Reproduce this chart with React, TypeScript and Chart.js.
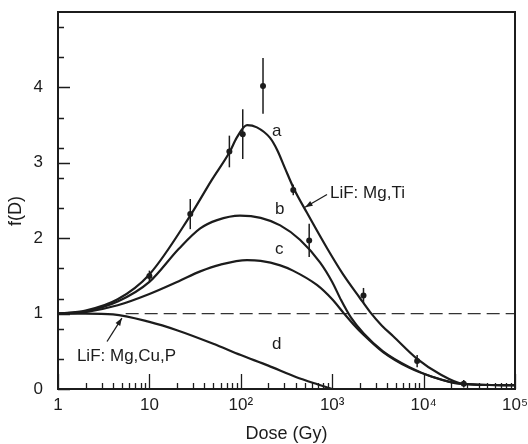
import React, { useEffect, useRef } from "react";
import { Chart, registerables } from "chart.js";

Chart.register(...registerables);

// ---- data ----
const doseA = [1, 2, 4.5, 10, 28, 48, 76, 90, 117, 150, 209, 250, 304, 380, 528, 876, 1300, 2000, 2600, 3500, 4650, 8500, 15000, 27000, 100000];
const fA = [1.0, 1.04, 1.19, 1.52, 2.3, 2.77, 3.15, 3.33, 3.5, 3.47, 3.33, 3.17, 2.93, 2.66, 2.34, 1.87, 1.53, 1.21, 1.02, 0.84, 0.7, 0.4, 0.2, 0.07, 0.05];

const doseB = [1, 2, 4.5, 10, 21, 36, 55, 98, 165, 270, 444, 735, 1000, 1250, 1600, 2200, 3600, 7000, 12600, 25000, 100000];
const fB = [1.0, 1.03, 1.16, 1.42, 1.86, 2.13, 2.24, 2.3, 2.27, 2.17, 1.98, 1.68, 1.42, 1.18, 0.95, 0.74, 0.5, 0.29, 0.16, 0.07, 0.05];

const doseC = [1, 2, 4.5, 10, 21, 36, 60, 117, 165, 270, 372, 680, 1000, 1350, 1700, 2200, 3600, 7000, 12600, 25000, 100000];
const fC = [1.0, 1.02, 1.11, 1.26, 1.43, 1.56, 1.65, 1.71, 1.7, 1.64, 1.57, 1.38, 1.19, 1.0, 0.86, 0.72, 0.49, 0.28, 0.16, 0.07, 0.05];

const doseD = [1, 2, 4, 10, 20, 50, 100, 200, 400, 700, 1000];
const fD = [1.0, 1.0, 0.99, 0.89, 0.78, 0.6, 0.45, 0.31, 0.16, 0.06, 0.0];

const refDose = [5.5, 100000];
const refF = [1, 1];

const ptDose = [10, 28, 75, 105, 175, 375, 560, 2200, 8500, 27500];
const ptF = [1.5, 2.32, 3.15, 3.38, 4.02, 2.64, 1.97, 1.24, 0.37, 0.07];
const ptErr = [0.07, 0.2, 0.21, 0.33, 0.37, 0.07, 0.22, 0.1, 0.08, 0.05];

const decadeValues = [1, 10, 100, 1000, 10000, 100000];
const decadeLabels = ["1", "10", "10²", "10³", "10⁴", "10⁵"];
const yTickValues = [0, 0.4, 0.8, 1, 1.2, 1.6, 2, 2.4, 2.8, 3, 3.2, 3.6, 4, 4.4, 4.8];

const curveLabels = [
  { text: "a", x: 219, y: 3.42 },
  { text: "b", x: 237, y: 2.38 },
  { text: "c", x: 237, y: 1.85 },
  { text: "d", x: 219, y: 0.59 },
];
const notes = [
  { text: "LiF: Mg,Ti", x: 946, y: 2.6, tail: [877, 2.58], head: [505, 2.41] },
  { text: "LiF: Mg,Cu,P", x: 1.61, y: 0.43, tail: [3.44, 0.63], head: [5.0, 0.94] },
];

const FONT = "'Liberation Sans', Arial, Helvetica, sans-serif";
const INK = "#1c1c1c";

const xTickValues: number[] = [];
for (let e = 0; e < 5; e++) {
  for (let m = 1; m < 10; m++) xTickValues.push(m * Math.pow(10, e));
}
xTickValues.push(100000);

const toPts = (xs: number[], ys: number[]) => xs.map((x, i) => ({ x, y: ys[i] }));

const overlay = {
  id: "overlay",
  afterDatasetsDraw(chart: any) {
    const { ctx, chartArea: ca, scales } = chart;
    const xs = scales.x;
    const ys = scales.y;
    ctx.save();
    // frame
    ctx.strokeStyle = INK;
    ctx.lineWidth = 2;
    ctx.strokeRect(ca.left, ca.top, ca.right - ca.left, ca.bottom - ca.top);
    // inward ticks
    ctx.lineWidth = 1.3;
    ctx.beginPath();
    xTickValues.forEach((v) => {
      const px = Math.round(xs.getPixelForValue(v)) + 0.5;
      const major = decadeValues.includes(v);
      ctx.moveTo(px, ca.bottom);
      ctx.lineTo(px, ca.bottom - (major ? 15 : 6));
    });
    yTickValues.forEach((v) => {
      const py = Math.round(ys.getPixelForValue(v)) + 0.5;
      const major = Number.isInteger(v);
      ctx.moveTo(ca.left, py);
      ctx.lineTo(ca.left + (major ? 12 : 6), py);
    });
    ctx.stroke();
    // error bars and points
    ctx.lineWidth = 1.5;
    ctx.fillStyle = INK;
    ptDose.forEach((d, i) => {
      const px = xs.getPixelForValue(d);
      const py = ys.getPixelForValue(ptF[i]);
      const pt = ys.getPixelForValue(ptF[i] + ptErr[i]);
      const pb = ys.getPixelForValue(ptF[i] - ptErr[i]);
      ctx.beginPath();
      ctx.moveTo(px, pt);
      ctx.lineTo(px, pb);
      ctx.stroke();
      ctx.beginPath();
      ctx.arc(px, py, 3, 0, Math.PI * 2);
      ctx.fill();
    });
    // curve letters
    ctx.fillStyle = INK;
    ctx.font = `17px ${FONT}`;
    ctx.textAlign = "left";
    ctx.textBaseline = "middle";
    curveLabels.forEach((l) => {
      ctx.fillText(l.text, xs.getPixelForValue(l.x), ys.getPixelForValue(l.y));
    });
    // notes with arrows
    notes.forEach((n) => {
      ctx.fillText(n.text, xs.getPixelForValue(n.x), ys.getPixelForValue(n.y));
      const tx = xs.getPixelForValue(n.tail[0]);
      const ty = ys.getPixelForValue(n.tail[1]);
      const hx = xs.getPixelForValue(n.head[0]);
      const hy = ys.getPixelForValue(n.head[1]);
      ctx.lineWidth = 1.3;
      ctx.beginPath();
      ctx.moveTo(tx, ty);
      ctx.lineTo(hx, hy);
      ctx.stroke();
      const ang = Math.atan2(hy - ty, hx - tx);
      const L = 8, W = 0.35;
      ctx.beginPath();
      ctx.moveTo(hx, hy);
      ctx.lineTo(hx - L * Math.cos(ang - W), hy - L * Math.sin(ang - W));
      ctx.lineTo(hx - L * Math.cos(ang + W), hy - L * Math.sin(ang + W));
      ctx.closePath();
      ctx.fill();
    });
    // y title
    ctx.save();
    ctx.translate(16, 211);
    ctx.rotate(-Math.PI / 2);
    ctx.textAlign = "center";
    ctx.textBaseline = "middle";
    ctx.font = `18px ${FONT}`;
    ctx.fillText("f(D)", 0, 0);
    ctx.restore();
    ctx.restore();
  },
};

export default function App() {
  const ref = useRef<HTMLCanvasElement | null>(null);
  useEffect(() => {
    if (!ref.current) return;
    const lineDs = (data: any, extra: any = {}) => ({
      data,
      borderColor: INK,
      borderWidth: 2.2,
      pointRadius: 0,
      fill: false,
      cubicInterpolationMode: "monotone",
      ...extra,
    });
    const chart = new Chart(ref.current, {
      type: "line",
      data: {
        datasets: [
          lineDs(toPts(doseA, fA)),
          lineDs(toPts(doseB, fB)),
          lineDs(toPts(doseC, fC)),
          lineDs(toPts(doseD, fD)),
          lineDs(toPts(refDose, refF), { borderWidth: 1.4, borderDash: [13, 6], borderColor: "#333" }),
        ],
      },
      plugins: [overlay],
      options: {
        animation: false,
        responsive: true,
        maintainAspectRatio: false,
        layout: { padding: { left: 0, right: 13, top: 12, bottom: 0 } },
        plugins: { legend: { display: false }, tooltip: { enabled: false } },
        scales: {
          x: {
            type: "logarithmic",
            min: 1,
            max: 100000,
            afterBuildTicks: (s: any) => {
              s.ticks = xTickValues.map((v) => ({ value: v }));
            },
            afterFit: (s: any) => {
              s.height = 55;
              s.paddingLeft = 0;
              s.paddingRight = 0;
            },
            grid: { display: false, drawTicks: false },
            border: { display: false },
            ticks: {
              autoSkip: false,
              maxRotation: 0,
              padding: 6,
              color: INK,
              font: { family: FONT, size: 17 },
              callback: (v: any) => {
                const i = decadeValues.indexOf(Number(v));
                return i >= 0 ? decadeLabels[i] : "";
              },
            },
            title: {
              display: true,
              text: "Dose (Gy)",
              color: INK,
              font: { family: FONT, size: 18, lineHeight: 1.0 },
              padding: { top: 0, bottom: 1 },
            },
          },
          y: {
            min: 0,
            max: 5,
            afterBuildTicks: (s: any) => {
              s.ticks = yTickValues.map((v) => ({ value: v }));
            },
            afterFit: (s: any) => {
              s.width = 58;
              s.paddingTop = 0;
              s.paddingBottom = 0;
            },
            grid: { display: false, drawTicks: false },
            border: { display: false },
            ticks: {
              autoSkip: false,
              padding: 15,
              color: INK,
              font: { family: FONT, size: 17 },
              callback: (v: any) => (Number.isInteger(Number(v)) ? String(v) : ""),
            },
          },
        },
      } as any,
    });
    return () => chart.destroy();
  }, []);
  return (
    <div style={{ position: "fixed", left: 0, top: 0, width: 528, height: 444, background: "#fff" }}>
      <canvas ref={ref} />
    </div>
  );
}
